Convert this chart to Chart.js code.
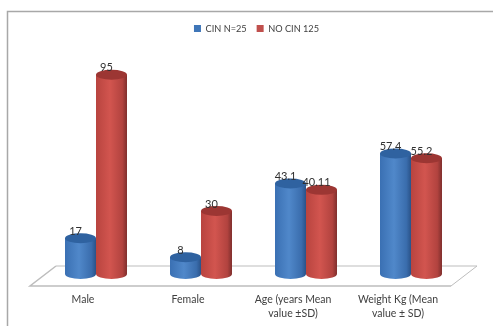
<!DOCTYPE html>
<html>
<head>
<meta charset="utf-8">
<style>
  html, body { margin: 0; padding: 0; background: #fff; }
  #wrap { position: relative; width: 493px; height: 326px; }
</style>
<script src="https://cdn.jsdelivr.net/npm/chart.js@4"></script>
</head>
<body>
<div id="wrap"><canvas id="myChart" width="493" height="326"></canvas></div>
<script>
const categories = ['Male', 'Female', ['Age (years Mean', 'value ±SD)'], ['Weight Kg (Mean', 'value ± SD)']];
const seriesNames = ['CIN N=25', 'NO CIN 125'];
const cinValues = [17, 8, 43.1, 57.4];
const noCinValues = [95, 30, 40.11, 55.2];
const valueText = [['17', '8', '43.1', '57.4'], ['95', '30', '40.11', '55.2']];

const textColor = '#404040';
const fontFamily = 'Lato, "Open Sans", sans-serif';
const shades = [
  { flat: '#3f76b8', stops: ['#3a70b3', '#5088ca', '#3a6dad', '#2a5288'], top: '#2f62a0' },
  { flat: '#c0504d', stops: ['#b8443f', '#d2554f', '#b2433f', '#7f2f2d'], top: '#9c3633' }
];

// outer frame, only top and left are visible
const frame = {
  id: 'frame',
  afterLayout(chart) {
    // legend sits a little right of the plot centre
    chart.legend.left += 3;
    chart.legend.right += 3;
  },
  beforeDraw(chart) {
    const c = chart.ctx;
    c.save();
    c.strokeStyle = '#a8a8a8';
    c.lineWidth = 1.5;
    c.beginPath();
    c.moveTo(7.5, chart.height);
    c.lineTo(7.5, 11.5);
    c.lineTo(chart.width, 11.5);
    c.stroke();
    c.restore();
  }
};

// floor the cylinders stand on
const floor = {
  id: 'floor',
  beforeDatasetsDraw(chart) {
    const c = chart.ctx;
    const x = chart.scales.x;
    const y0 = chart.scales.y.getPixelForValue(0);
    c.save();
    c.strokeStyle = '#bdbdbd';
    c.lineWidth = 1;
    c.beginPath();
    c.moveTo(x.left + 12.5, y0 - 8);
    c.lineTo(x.right + 13.5, y0 - 8);
    c.lineTo(x.right - 12.5, y0 + 12);
    c.stroke();
    c.beginPath();
    c.moveTo(x.right - 12.5, y0 + 12);
    c.lineTo(x.left - 13.5, y0 + 12);
    c.lineTo(x.left + 12.5, y0 - 8);
    c.lineWidth = 1.5;
    c.stroke();
    c.restore();
  }
};

// paints each bar as a cylinder and writes its value above it
const cylinders = {
  id: 'cylinders',
  afterDatasetsDraw(chart) {
    const c = chart.ctx;
    const ry = 5;
    chart.data.datasets.forEach((ds, d) => {
      const shade = shades[d];
      chart.getDatasetMeta(d).data.forEach((bar) => {
        const rx = bar.width / 2;
        const g = c.createLinearGradient(bar.x - rx, 0, bar.x + rx, 0);
        g.addColorStop(0, shade.stops[0]);
        g.addColorStop(0.45, shade.stops[1]);
        g.addColorStop(0.85, shade.stops[2]);
        g.addColorStop(1, shade.stops[3]);
        c.save();
        c.fillStyle = g;
        c.beginPath();
        c.moveTo(bar.x - rx, bar.y);
        c.lineTo(bar.x - rx, bar.base);
        c.ellipse(bar.x, bar.base, rx, ry, 0, Math.PI, 0, true);
        c.lineTo(bar.x + rx, bar.y);
        c.closePath();
        c.fill();
        c.fillStyle = shade.top;
        c.beginPath();
        c.ellipse(bar.x, bar.y, rx, ry, 0, 0, Math.PI * 2);
        c.fill();
        c.restore();
      });
    });
    // text goes last so the neighbouring cylinder never hides it
    c.save();
    c.fillStyle = '#303030';
    c.font = '11px ' + fontFamily;
    c.textAlign = 'center';
    c.textBaseline = 'middle';
    chart.data.datasets.forEach((ds, d) => {
      chart.getDatasetMeta(d).data.forEach((bar, i) => {
        c.fillText(valueText[d][i], bar.x - 5, bar.y - 7);
      });
    });
    c.restore();
  }
};

new Chart(document.getElementById('myChart'), {
  type: 'bar',
  data: {
    labels: categories,
    datasets: [
      { label: seriesNames[0], data: cinValues, backgroundColor: shades[0].flat },
      { label: seriesNames[1], data: noCinValues, backgroundColor: shades[1].flat }
    ]
  },
  options: {
    responsive: false,
    animation: false,
    layout: { padding: { left: 43.5, right: 29.5, top: 14, bottom: 0 } },
    datasets: { bar: { categoryPercentage: 0.59, barPercentage: 1 } },
    plugins: {
      legend: {
        position: 'top',
        labels: {
          boxWidth: 7,
          boxHeight: 7,
          padding: 10,
          color: textColor,
          font: { family: fontFamily, size: 9.2 }
        }
      },
      tooltip: { enabled: false }
    },
    scales: {
      x: {
        grid: { display: false, drawTicks: false },
        border: { display: false },
        afterFit(scale) { scale.height = 52; },
        ticks: {
          color: textColor,
          maxRotation: 0,
          padding: 18,
          labelOffset: -13,
          font: { family: fontFamily, size: 10.5, lineHeight: 1.4 }
        }
      },
      y: { display: false, min: 0, max: 110 }
    }
  },
  plugins: [frame, floor, cylinders]
});
</script>
</body>
</html>
